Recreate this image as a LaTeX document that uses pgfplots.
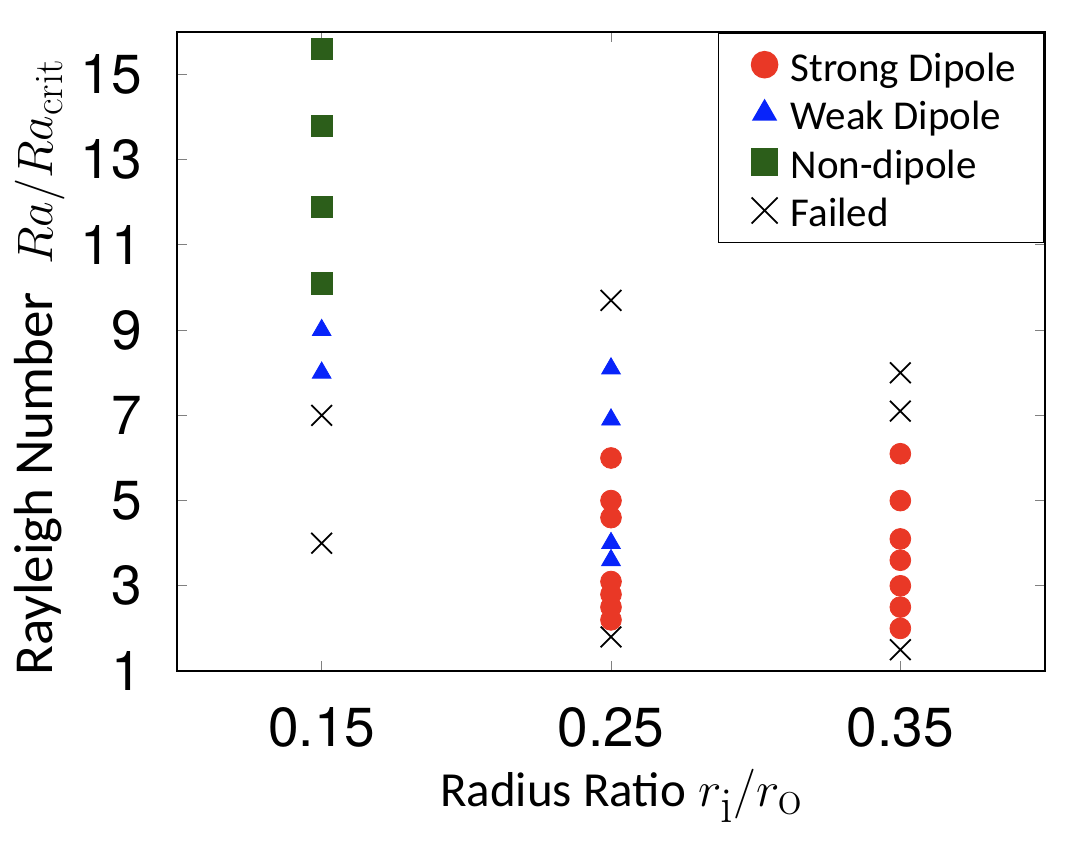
\documentclass[border=0pt]{standalone}
\usepackage{pgfplots}
\pgfplotsset{compat=1.18}
\usepackage{fontspec}
\setmainfont{Carlito}
\setmathrm{Latin Modern Roman}
\newfontfamily\heros{TeX Gyre Heros}
\definecolor{sred}{RGB}{233,56,38}
\definecolor{wblue}{RGB}{8,36,250}
\definecolor{ngreen}{RGB}{44,94,26}
\newcommand\ls{\rule[-3.5pt]{0pt}{21.5pt}}
\begin{document}
\begin{tikzpicture}
\begin{axis}[
  scale only axis, width=434pt, height=319.5pt,
  xmin=0.1, xmax=0.4, ymin=1, ymax=16,
  xtick={0.15,0.25,0.35}, xticklabels={0.15,0.25,0.35},
  ytick={1,3,5,7,9,11,13,15}, yticklabels={1,3,5,7,9,11,13,15},
  axis line style={line width=0.8pt},
  tick style={gray, line width=0.5pt},
  major tick length=5pt,
  tick align=inside,
  ticklabel style={font=\heros\fontsize{27.5}{30}\selectfont},
  xticklabel style={inner sep=0pt, anchor=north, yshift=-18pt},
  yticklabel style={inner sep=0pt, anchor=east, xshift=-17.5pt},
  xlabel={Radius Ratio\hspace{0.25em}{\fontsize{36}{40}\selectfont$r_{\mathrm{i}}/r_{\mathrm{o}}$}},
  ylabel={Rayleigh Number\hspace{0.5em}{\fontsize{29}{32}\selectfont$Ra/Ra_{\mathrm{crit}}$}},
  xlabel style={font=\fontsize{24.5}{28}\selectfont, at={(axis description cs:0.512,-0.2128)}, anchor=base},
  ylabel style={font=\fontsize{27.5}{30}\selectfont, at={(axis description cs:-0.1429,0.475)}, anchor=base},
  legend style={at={(axis description cs:1,1)}, anchor=north east, draw=black, line width=0.8pt,
    font=\fontsize{20.5}{24}\selectfont, inner xsep=11pt, inner ysep=3.8pt,
    row sep=0pt, column sep=1.5pt, nodes={inner xsep=3pt, inner ysep=2.4pt}},
  legend cell align=left,
  legend image code/.code={%
    \path[draw=none,fill=none] (-3.5pt,0pt) -- (0.6cm,0pt);
    \draw[mark repeat=2,mark phase=2,#1] plot coordinates {(0cm,0cm) (0.3cm,0cm) (0.6cm,0cm)};},
]
\addplot[only marks, mark=*, mark size=5.2pt, color=sred, mark options={draw=sred, fill=sred},
  legend image post style={mark size=6.5pt}] coordinates {
  (0.25,6) (0.25,5) (0.25,4.6) (0.25,3.1) (0.25,2.8) (0.25,2.5) (0.25,2.2)
  (0.35,6.1) (0.35,5) (0.35,4.1) (0.35,3.6) (0.35,3) (0.35,2.5) (0.35,2)
};
\addlegendentry{\ls Strong Dipole}
\addplot[only marks, mark=triangle*, mark size=5.4pt, color=wblue, mark options={draw=wblue, fill=wblue},
  legend image post style={mark size=6.5pt}] coordinates {
  (0.15,9) (0.15,8)
  (0.25,8.1) (0.25,6.9) (0.25,4) (0.25,3.6)
};
\addlegendentry{\ls Weak Dipole}
\addplot[only marks, mark=square*, mark size=5.3pt, color=ngreen, mark options={draw=ngreen, fill=ngreen},
  legend image post style={mark size=6.5pt}] coordinates {
  (0.15,15.6) (0.15,13.8) (0.15,11.9) (0.15,10.1)
};
\addlegendentry{\ls Non-dipole}
\addplot[only marks, mark=x, mark size=7.3pt, color=black, mark options={line width=0.9pt},
  legend image post style={mark size=9.2pt}] coordinates {
  (0.15,7) (0.15,4)
  (0.25,9.7) (0.25,1.8)
  (0.35,8) (0.35,7.1) (0.35,1.5)
};
\addlegendentry{\ls Failed}
\coordinate (bl) at (rel axis cs:0,0);
\coordinate (tr) at (rel axis cs:1,1);
\end{axis}
\pgfresetboundingbox
\path (bl) ++(-88.5pt,-86.5pt) coordinate (BL);
\path (tr) ++(12.5pt,16pt) coordinate (TR);
\path (BL) rectangle (TR);
\end{tikzpicture}
\end{document}
